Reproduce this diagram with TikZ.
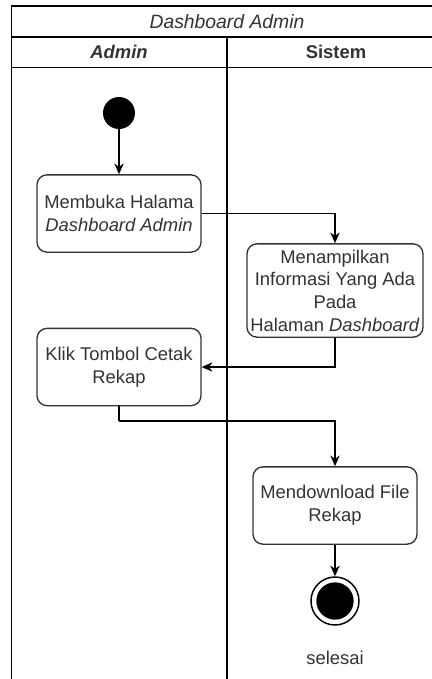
\documentclass[tikz,border=0pt]{standalone}
\usepackage{fontspec}
\setmainfont{Liberation Sans}
\usetikzlibrary{arrows.meta}
\definecolor{ink}{HTML}{333333}
\tikzset{
  lane/.style={draw=black, line width=1.1pt},
  hdr/.style={text=ink, font=\fontsize{13.8}{16}\selectfont, inner sep=0pt},
  actbox/.style={draw=ink, line width=1pt, rounded corners=7.5pt, fill=white,
    minimum width=123pt, minimum height=58pt, inner sep=0pt, align=center,
    text=ink, font=\fontsize{13.8}{17}\selectfont},
  flow/.style={draw=black, line width=1pt,
    -{Stealth[length=8pt,width=7pt,inset=2.5pt]}},
  plain/.style={draw=black, line width=1pt}
}
\begin{document}
\begin{tikzpicture}[x=0.75pt,y=-0.75pt]
\useasboundingbox (0,0) rectangle (432,679);
\clip (0,0) rectangle (432,679);
\fill[white] (0,0) rectangle (432,679);

% swimlane frame
\draw[lane] (445,6) -- (11.5,6) -- (11.5,690);
\draw[lane] (11.5,37) -- (445,37);
\draw[lane] (11.5,67.5) -- (445,67.5);
\draw[lane] (227,37) -- (227,690);

% lane titles
\node[hdr] (title) at (227,21.5) {\fontsize{14.5}{16}\selectfont\itshape Dashboard Admin};
\node[hdr] (laneA) at (119,52) {\bfseries\itshape Admin};
\node[hdr] (laneS) at (336,52) {\bfseries Sistem};

% start
\node[circle, fill=black, minimum size=24pt, inner sep=0pt] (start) at (119,113) {};

% activities
\node[actbox] (buka) at (119,213.5) {Membuka Halama\\\itshape Dashboard Admin};
\node[actbox, minimum width=132pt, minimum height=70pt] (info) at (335,290.5)
  {Menampilkan\\Informasi Yang Ada\\Pada\\Halaman \textit{Dashboard}};
\node[actbox] (klik) at (119,367) {Klik Tombol Cetak\\Rekap};
\node[actbox] (unduh) at (335,505.5) {Mendownload File\\Rekap};

% end
\node[circle, draw=black, line width=1.1pt, fill=white, minimum size=36pt, inner sep=0pt] (end) at (335,601) {};
\node[circle, fill=black, minimum size=28pt, inner sep=0pt] (endfill) at (end.center) {};
\node[text=ink, font=\fontsize{13.8}{16}\selectfont, inner sep=0pt] (selesai) at (335,658) {selesai};

% flows
\coordinate (bend) at (119,421);
\draw[flow] (start) -- (buka);
\draw[flow] (buka.east) -| (info.north);
\draw[flow] (info.south) |- (klik.east);
\draw[plain] (klik.south) -- (bend);
\draw[flow] (bend) -| (unduh.north);
\draw[flow] (unduh.south) -- (end.north);
\end{tikzpicture}
\end{document}
